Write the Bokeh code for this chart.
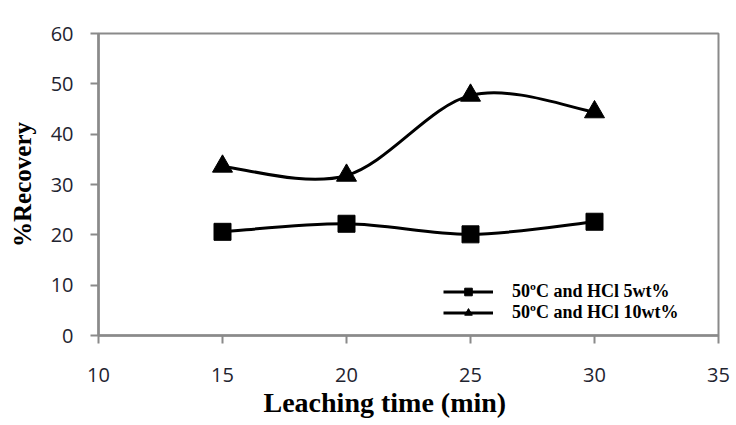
from bokeh.plotting import figure
from bokeh.models import Range1d, Legend, LegendItem, Title, FixedTicker
from bokeh.embed import file_html
from bokeh.resources import INLINE

# ---- data ----
time_min = [15, 20, 25, 30]
rec_hcl5 = [20.6, 22.2, 20.1, 22.6]
rec_hcl10 = [33.6, 31.8, 47.7, 44.4]
label_hcl5 = "50ºC and HCl 5wt%"
label_hcl10 = "50ºC and HCl 10wt%"
x_ticks = [10, 15, 20, 25, 30, 35]
y_ticks = [0, 10, 20, 30, 40, 50, 60]


def smooth_segments(xs, ys):
    """Excel-style smoothed line: cubic Bezier control points from neighbours."""
    n = len(xs)
    pts = list(zip(xs, ys))
    seg = dict(x0=[], y0=[], x1=[], y1=[], cx0=[], cy0=[], cx1=[], cy1=[])
    for i in range(n - 1):
        p_prev = pts[i - 1] if i > 0 else pts[i]
        p0 = pts[i]
        p1 = pts[i + 1]
        p_next = pts[i + 2] if i + 2 < n else pts[i + 1]
        seg["x0"].append(p0[0]); seg["y0"].append(p0[1])
        seg["x1"].append(p1[0]); seg["y1"].append(p1[1])
        seg["cx0"].append(p0[0] + (p1[0] - p_prev[0]) / 6)
        seg["cy0"].append(p0[1] + (p1[1] - p_prev[1]) / 6)
        seg["cx1"].append(p1[0] - (p_next[0] - p0[0]) / 6)
        seg["cy1"].append(p1[1] - (p_next[1] - p0[1]) / 6)
    return seg


p = figure(width=736, height=425, output_backend="svg", toolbar_location=None,
           x_range=Range1d(10, 35), y_range=Range1d(0, 60),
           min_border_left=98, min_border_right=18, min_border_top=33, min_border_bottom=90)
p.background_fill_color = "white"
p.border_fill_color = "white"
p.outline_line_color = "#8a8a8a"
p.outline_line_width = 2
p.xgrid.visible = False
p.ygrid.visible = False

axis_col = "#8a8a8a"
for ax in (p.xaxis[0], p.yaxis[0]):
    ax.axis_line_color = axis_col
    ax.axis_line_width = 2.5
    ax.major_tick_line_color = axis_col
    ax.major_tick_line_width = 2
    ax.major_tick_out = 8
    ax.major_tick_in = 0
    ax.minor_tick_line_color = None
    ax.major_label_text_font = "Open Sans"
    ax.major_label_text_font_size = "20px"
    ax.major_label_text_color = "#1f2430"

p.xaxis[0].ticker = FixedTicker(ticks=x_ticks)
p.yaxis[0].ticker = FixedTicker(ticks=y_ticks)
p.xaxis[0].major_label_standoff = 24
p.yaxis[0].major_label_standoff = 17

p.yaxis[0].axis_label = "%Recovery"
p.yaxis[0].axis_label_text_font = "Liberation Serif"
p.yaxis[0].axis_label_text_font_style = "bold"
p.yaxis[0].axis_label_text_font_size = "25px"
p.yaxis[0].axis_label_text_color = "black"
p.yaxis[0].axis_label_standoff = 12

xtitle = Title(text="Leaching time (min)", align="left", offset=165, standoff=0,
               text_font="Liberation Serif", text_font_style="bold",
               text_font_size="28px", text_color="black")
p.add_layout(xtitle, "below")

s5 = smooth_segments(time_min, rec_hcl5)
s10 = smooth_segments(time_min, rec_hcl10)

b5 = p.bezier(x0="x0", y0="y0", x1="x1", y1="y1", cx0="cx0", cy0="cy0",
              cx1="cx1", cy1="cy1", source=s5, line_color="black", line_width=3)
b10 = p.bezier(x0="x0", y0="y0", x1="x1", y1="y1", cx0="cx0", cy0="cy0",
               cx1="cx1", cy1="cy1", source=s10, line_color="black", line_width=3)
m5 = p.scatter(time_min, rec_hcl5, marker="square", size=17, color="black")
m10 = p.scatter(time_min, rec_hcl10, marker="triangle", size=20, color="black")

legend = Legend(items=[LegendItem(label=label_hcl5, renderers=[b5, m5]),
                       LegendItem(label=label_hcl10, renderers=[b10, m10])],
                location=(345, 12), orientation="vertical",
                glyph_width=50, glyph_height=19, label_height=19,
                label_standoff=19, spacing=0, padding=0, margin=0,
                label_text_font="Liberation Serif", label_text_font_style="bold",
                label_text_font_size="18px", label_text_color="black",
                border_line_alpha=0, background_fill_alpha=0)
p.add_layout(legend)

open("out.html", "w").write(file_html(p, INLINE))
